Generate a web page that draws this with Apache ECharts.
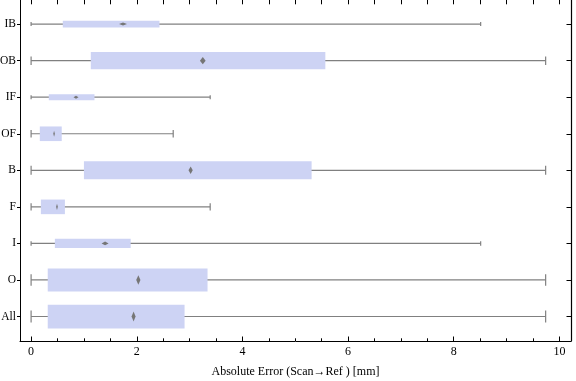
<!DOCTYPE html>
<html>
<head>
<meta charset="utf-8">
<script src="https://cdn.jsdelivr.net/npm/echarts@6/dist/echarts.min.js"></script>
<style>html,body{margin:0;padding:0;background:#fff}#c{width:576px;height:381px}</style>
</head>
<body>
<div id="c"></div>
<script>
// ---- data ----
const categories   = ['IB', 'OB', 'IF', 'OF', 'B', 'F', 'I', 'O', 'All'];
const whiskerLow   = [0, 0, 0, 0, 0, 0, 0, 0, 0];
const quartile1    = [0.60, 1.13, 0.335, 0.165, 1.00, 0.185, 0.45, 0.315, 0.315];
const quartile3    = [2.43, 5.57, 1.20, 0.58, 5.31, 0.64, 1.885, 3.34, 2.905];
const whiskerHigh  = [8.51, 9.74, 3.39, 2.69, 9.74, 3.39, 8.51, 9.74, 9.74];
const meanValue    = [1.74, 3.25, 0.85, 0.435, 3.02, 0.49, 1.40, 2.03, 1.94];
const meanCI       = [0.075, 0.054, 0.047, 0.015, 0.04, 0.016, 0.066, 0.04, 0.038];
const groupWeight  = [0.19, 0.47, 0.16, 0.40, 0.49, 0.40, 0.25, 0.63, 0.65];
const xTickLabels  = [0, 2, 4, 6, 8, 10];
const xMinorTicks  = [0,0.5,1,1.5,2,2.5,3,3.5,4,4.5,5,5.5,6,6.5,7,7.5,8,8.5,9,9.5,10];
const xAxisTitle   = 'Absolute Error (Scan\u2192Ref ) [mm]';

const n = categories.length;
const catPos = categories.map((c, i) => n - i);
const seriesData = categories.map((c, i) => [
  catPos[i], whiskerLow[i], quartile1[i], quartile3[i], whiskerHigh[i],
  meanValue[i], meanCI[i], groupWeight[i]
]);

const FONT = 'Liberation Serif';
const X_MIN = -0.21, X_MAX = 10.22, Y_MIN = 0.33, Y_MAX = 9.66;
const boxColor = '#cdd3f4';
const whiskerColor = '#808080';
const diamondColor = '#767676';

function renderItem(params, api) {
  const y = api.value(0);
  const lo = api.coord([api.value(1), y]);
  const q1 = api.coord([api.value(2), y]);
  const q3 = api.coord([api.value(3), y]);
  const hi = api.coord([api.value(4), y]);
  const m = api.value(5), ci = api.value(6);
  const mc = api.coord([m, y]);
  const cl = api.coord([m - ci, y]);
  const cr = api.coord([m + ci, y]);
  const th = api.size([0, api.value(7)])[1];
  const cap = Math.max(4, th * 0.5);
  const dh = Math.max(3, th * 0.42);
  const cy = lo[1];
  const lineStyle = { stroke: whiskerColor, lineWidth: 1.2, fill: null };
  return {
    type: 'group',
    children: [
      { type: 'line', shape: { x1: lo[0], y1: cy, x2: hi[0], y2: cy }, style: lineStyle },
      { type: 'line', shape: { x1: lo[0], y1: cy - cap / 2, x2: lo[0], y2: cy + cap / 2 }, style: lineStyle },
      { type: 'line', shape: { x1: hi[0], y1: cy - cap / 2, x2: hi[0], y2: cy + cap / 2 }, style: lineStyle },
      { type: 'rect', shape: { x: q1[0], y: cy - th / 2, width: q3[0] - q1[0], height: th }, style: { fill: boxColor } },
      { type: 'polygon', shape: { points: [[cl[0], cy], [mc[0], cy - dh / 2], [cr[0], cy], [mc[0], cy + dh / 2]] },
        style: { fill: diamondColor } }
    ]
  };
}

const tickStyle = { color: '#000', width: 1 };
const chart = echarts.init(document.getElementById('c'), null, { renderer: 'canvas' });
chart.setOption({
  animation: false,
  backgroundColor: '#ffffff',
  grid: [
    { left: 20, right: 5, top: 0, bottom: 40, outerBoundsMode: 'none' },
    { left: 20, right: 5, top: 0, bottom: 40, outerBoundsMode: 'none' }
  ],
  xAxis: [
    {
      gridIndex: 0, type: 'value', position: 'bottom', min: X_MIN, max: X_MAX,
      axisLine: { show: true, onZero: false, lineStyle: { color: '#000', width: 1 } },
      axisTick: { show: true, inside: true, length: 4.5, customValues: xTickLabels, lineStyle: tickStyle },
      axisLabel: { show: true, customValues: xTickLabels, margin: 5, color: '#000', fontFamily: FONT, fontSize: 12 },
      splitLine: { show: false },
      name: xAxisTitle, nameLocation: 'middle', nameGap: 25,
      nameTextStyle: { color: '#000', fontFamily: FONT, fontSize: 12 }
    },
    {
      gridIndex: 0, type: 'value', position: 'top', min: X_MIN, max: X_MAX,
      axisLine: { show: false, onZero: false },
      axisTick: { show: true, inside: true, length: 4.3, customValues: xMinorTicks, lineStyle: tickStyle },
      axisLabel: { show: false },
      splitLine: { show: false }
    },
    {
      gridIndex: 1, type: 'value', position: 'bottom', min: X_MIN, max: X_MAX,
      axisLine: { show: false, onZero: false },
      axisTick: { show: true, inside: true, length: 2.7, customValues: xMinorTicks, lineStyle: tickStyle },
      axisLabel: { show: false },
      splitLine: { show: false }
    }
  ],
  yAxis: [
    {
      gridIndex: 0, type: 'value', position: 'left', min: Y_MIN, max: Y_MAX,
      axisLine: { show: true, onZero: false, lineStyle: { color: '#000', width: 1 } },
      axisTick: { show: true, inside: false, length: 3, customValues: catPos, lineStyle: tickStyle },
      axisLabel: {
        show: true, customValues: catPos, margin: 4, color: '#000', fontFamily: FONT, fontSize: 11.5,
        formatter: v => categories[n - Math.round(v)]
      },
      splitLine: { show: false }
    },
    {
      gridIndex: 0, type: 'value', position: 'right', min: Y_MIN, max: Y_MAX,
      axisLine: { show: true, onZero: false, lineStyle: { color: '#000', width: 1.2 } },
      axisTick: { show: true, inside: true, length: 4.5, customValues: catPos, lineStyle: tickStyle },
      axisLabel: { show: false },
      splitLine: { show: false }
    },
    {
      gridIndex: 1, type: 'value', min: Y_MIN, max: Y_MAX,
      axisLine: { show: false, onZero: false }, axisTick: { show: false }, axisLabel: { show: false },
      splitLine: { show: false }
    }
  ],
  series: [{
    type: 'custom',
    xAxisIndex: 0, yAxisIndex: 0,
    renderItem: renderItem,
    encode: { x: [1, 2, 3, 4, 5], y: 0 },
    data: seriesData,
    clip: false
  }]
});
</script>
</body>
</html>
